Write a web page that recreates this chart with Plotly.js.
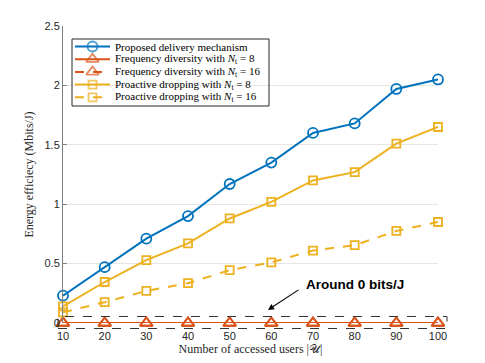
<!DOCTYPE html>
<html>
<head>
<meta charset="utf-8">
<script src="https://cdn.plot.ly/plotly-3.0.1.min.js"></script>
<style>
  html, body { margin: 0; padding: 0; background: #fff; }
  #chart { width: 485px; height: 363px; }
</style>
</head>
<body>
<div id="chart"></div>
<script>
// number of accessed users
const users = [10, 20, 30, 40, 50, 60, 70, 80, 90, 100];

// energy efficiency (Mbits/J)
const proposed = [0.23, 0.47, 0.71, 0.90, 1.17, 1.35, 1.60, 1.68, 1.97, 2.05];
const freqDiv8 = [0, 0, 0, 0, 0, 0, 0, 0, 0, 0];
const freqDiv16 = [0, 0, 0, 0, 0, 0, 0, 0, 0, 0];
const dropping8 = [0.14, 0.345, 0.53, 0.67, 0.88, 1.02, 1.20, 1.27, 1.51, 1.65];
const dropping16 = [0.09, 0.175, 0.27, 0.335, 0.445, 0.51, 0.61, 0.655, 0.775, 0.85];

const seriesNames = [
  'Proposed delivery mechanism',
  'Frequency diversity with <i>N</i><sub>t</sub> = 8',
  'Frequency diversity with <i>N</i><sub>t</sub> = 16',
  'Proactive dropping with <i>N</i><sub>t</sub> = 8',
  'Proactive dropping with <i>N</i><sub>t</sub> = 16'
];

const yTicks = [0, 0.5, 1, 1.5, 2, 2.5];
const yTickText = ['0', '0.5', '1', '1.5', '2', '2.5'];

const BLUE = '#0072BD';
const ORANGE = '#D95319';
const YELLOW = '#EDB120';

const styles = [
  { color: BLUE, dash: 'solid', symbol: 'circle-open', size: 10 },
  { color: ORANGE, dash: 'solid', symbol: 'triangle-up-open', size: 11 },
  { color: ORANGE, dash: 'dash', symbol: 'triangle-up-open', size: 11 },
  { color: YELLOW, dash: 'solid', symbol: 'square-open', size: 8 },
  { color: YELLOW, dash: 'dash', symbol: 'square-open', size: 8 }
];
const seriesData = [proposed, freqDiv8, freqDiv16, dropping8, dropping16];

const traces = seriesData.map((y, i) => ({
  x: users,
  y: y,
  name: seriesNames[i],
  type: 'scatter',
  mode: 'lines+markers',
  cliponaxis: false,
  showlegend: false,
  line: { color: styles[i].color, width: 2, dash: styles[i].dash },
  marker: { symbol: styles[i].symbol, size: styles[i].size, color: styles[i].color,
            line: { color: styles[i].color, width: 1.8 } }
}));

// hand-drawn legend (pixel frame on hidden overlay axes) to match the compact MATLAB legend
const W = 485, H = 363;
const M = { l: 63, r: 47, t: 26, b: 40 };
const legBox = { x0: 72, x1: 269, y0: 39, y1: 106 };
const rowTop = 46.5, rowStep = 12.7;
seriesNames.forEach((name, i) => {
  const yc = rowTop + i * rowStep;
  traces.push({
    x: [75, 92.5, 110],
    y: [yc, yc, yc],
    xaxis: 'x2', yaxis: 'y2',
    type: 'scatter', mode: 'lines+markers',
    cliponaxis: false, showlegend: false, hoverinfo: 'skip',
    line: { color: styles[i].color, width: 2, dash: styles[i].dash },
    marker: { symbol: styles[i].symbol, size: [0, styles[i].size, 0], color: styles[i].color,
              line: { color: styles[i].color, width: 1.8 } }
  });
});

const tickFont = { family: 'Liberation Sans, Arial, sans-serif', size: 11, color: '#262626' };
const serif = 'Liberation Serif, Times New Roman, serif';

const px = v => (v - M.l) / (W - M.l - M.r);
const py = v => (H - M.b - v) / (H - M.t - M.b);

const legendText = seriesNames.map((name, i) => ({
  x: 113, y: rowTop + i * rowStep, xref: 'x2', yref: 'y2',
  xanchor: 'left', yanchor: 'middle', showarrow: false,
  text: name, font: { family: serif, size: 11, color: '#000' }
}));

const layout = {
  width: W,
  height: H,
  margin: M,
  paper_bgcolor: '#fff',
  plot_bgcolor: '#fff',
  showlegend: false,
  xaxis: {
    range: [10, 100],
    tickvals: users,
    ticks: '',
    ticklabelstandoff: 5,
    showgrid: false,
    zeroline: false,
    showline: false,
    tickfont: tickFont,
    title: { text: 'Number of accessed users |𝒰|', font: { family: serif, size: 12, color: '#262626' }, standoff: 3 }
  },
  yaxis: {
    range: [0, 2.5],
    tickvals: yTicks,
    ticktext: yTickText,
    ticks: 'inside',
    ticklen: 4,
    tickcolor: '#808080',
    showgrid: true,
    gridcolor: '#e6e6e6',
    zeroline: false,
    showline: true,
    linecolor: '#808080',
    linewidth: 1,
    tickfont: tickFont,
    title: { text: 'Energy efficiecy (Mbits/J)', font: { family: serif, size: 12, color: '#262626' }, standoff: 8 }
  },
  xaxis2: { overlaying: 'x', range: [M.l, W - M.r], visible: false, fixedrange: true },
  yaxis2: { overlaying: 'y', range: [H - M.b, M.t], visible: false, fixedrange: true },
  shapes: [
    {
      type: 'rect', xref: 'paper', yref: 'paper',
      x0: px(58), x1: px(447), y0: py(328.5), y1: py(316.5),
      line: { color: '#333', width: 1, dash: 'dash' }
    },
    {
      type: 'rect', xref: 'paper', yref: 'paper', layer: 'above',
      x0: px(legBox.x0), x1: px(legBox.x1), y0: py(legBox.y1), y1: py(legBox.y0),
      fillcolor: 'rgba(0,0,0,0)', line: { color: '#262626', width: 1 }
    }
  ],
  annotations: [
    {
      x: 59.2, y: 0.11, xref: 'x', yref: 'y',
      ax: 32, ay: -21, axref: 'pixel', ayref: 'pixel',
      text: '', showarrow: true,
      arrowhead: 2, arrowsize: 1.1, arrowwidth: 1.1, arrowcolor: '#000'
    },
    {
      x: 80.1, y: 0.32, xref: 'x', yref: 'y',
      text: '<b>Around 0 bits/J</b>', showarrow: false,
      font: { family: 'Liberation Sans, Arial, sans-serif', size: 13.5, color: '#000' }
    }
  ].concat(legendText)
};

// white background behind the legend, drawn under the traces of the legend
layout.shapes.unshift({
  type: 'rect', xref: 'paper', yref: 'paper', layer: 'below',
  x0: px(legBox.x0), x1: px(legBox.x1), y0: py(legBox.y1), y1: py(legBox.y0),
  fillcolor: '#fff', line: { width: 0 }
});

Plotly.newPlot('chart', traces, layout, { displayModeBar: false, staticPlot: true });
</script>
</body>
</html>
